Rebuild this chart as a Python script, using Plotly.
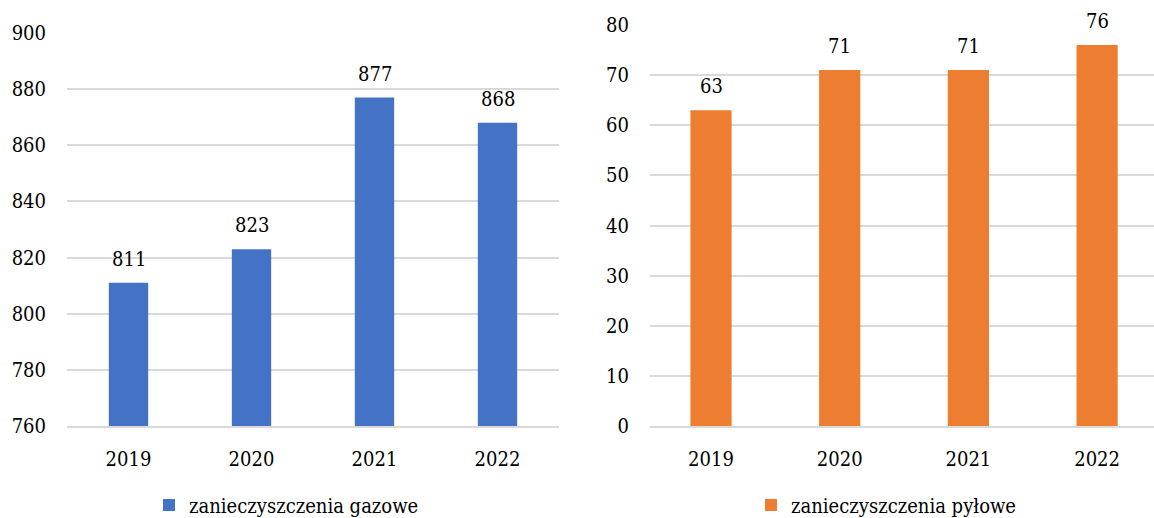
import plotly.graph_objects as go
from plotly.subplots import make_subplots

years = ["2019", "2020", "2021", "2022"]
gazowe = [811, 823, 877, 868]
pylowe = [63, 71, 71, 76]

W, H = 1154, 518
FONT = "DejaVu Serif Condensed, DejaVu Serif, serif"
NUM_SIZE = 20
GRID = "#D9D9D9"
BLUE = "#4472C4"
ORANGE = "#ED7D31"


def px_x(x):
    return x / W


def px_y(y):
    return (H - y) / H


fig = make_subplots(rows=1, cols=2)

fig.add_trace(go.Bar(
    x=years, y=gazowe,
    name="zanieczyszczenia gazowe",
    marker=dict(color=BLUE, line=dict(width=0)),
    width=0.32,
    showlegend=True,
    legend="legend"
), row=1, col=1)

fig.add_trace(go.Bar(
    x=years, y=pylowe,
    name="zanieczyszczenia pyłowe",
    marker=dict(color=ORANGE, line=dict(width=0)),
    width=0.32,
    showlegend=True,
    legend="legend2"
), row=1, col=2)

# value labels above the bars (category index on x)
for xref, yref, vals in [("x", "y", gazowe), ("x2", "y2", pylowe)]:
    for i, v in enumerate(vals):
        fig.add_annotation(
            x=i, y=v, xref=xref, yref=yref,
            text=str(v), showarrow=False,
            yanchor="bottom", yshift=10,
            font=dict(family=FONT, size=NUM_SIZE, color="#000000")
        )

fig.update_layout(
    width=W, height=H,
    margin=dict(l=0, r=0, t=0, b=0, autoexpand=False),
    paper_bgcolor="white",
    plot_bgcolor="white",
    showlegend=True,
    font=dict(family=FONT, size=NUM_SIZE, color="#000000"),
    legend=dict(
        x=px_x(149), y=px_y(505), xanchor="left", yanchor="middle",
        orientation="h", font=dict(family=FONT, size=NUM_SIZE), itemwidth=30,
        bgcolor="rgba(0,0,0,0)"
    ),
    legend2=dict(
        x=px_x(751), y=px_y(505), xanchor="left", yanchor="middle",
        orientation="h", font=dict(family=FONT, size=NUM_SIZE), itemwidth=30,
        bgcolor="rgba(0,0,0,0)"
    ),
    xaxis=dict(type="category", domain=[px_x(67), px_x(559)], range=[-0.5, 3.5]),
    xaxis2=dict(type="category", domain=[px_x(650), 1.0], range=[-0.474, 3.442]),
    yaxis=dict(domain=[px_y(426), px_y(33)], range=[760, 900], dtick=20),
    yaxis2=dict(domain=[px_y(426), px_y(25)], range=[0, 80], dtick=10),
)

fig.update_xaxes(
    showgrid=False, showline=True, linecolor=GRID, linewidth=2,
    ticks="", ticklabelstandoff=14, automargin=False,
    tickfont=dict(family=FONT, size=NUM_SIZE)
)
fig.update_yaxes(
    showgrid=True, gridcolor=GRID, gridwidth=2, zeroline=False,
    showline=False, ticks="", ticklabelstandoff=20, automargin=False,
    tickfont=dict(family=FONT, size=NUM_SIZE)
)

fig.write_html(
    "out.html",
    config={"displayModeBar": False},
    post_script="document.body.style.margin='0';document.body.style.overflow='hidden';"
)
